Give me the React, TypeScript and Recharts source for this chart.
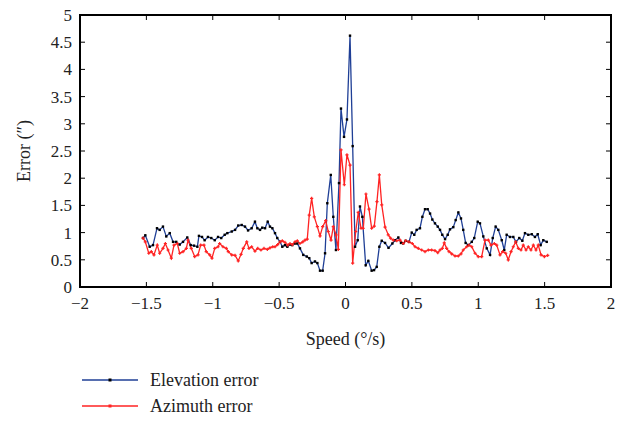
import { LineChart, Line, XAxis, YAxis, CartesianGrid, ReferenceArea, ReferenceLine } from 'recharts'

const speedTicks = [-2, -1.5, -1, -0.5, 0, 0.5, 1, 1.5, 2]
const errorTicks = [0, 0.5, 1, 1.5, 2, 2.5, 3, 3.5, 4, 4.5, 5]

const elevationSpeed = [
  -1.525, -1.508, -1.475, -1.45, -1.42, -1.4, -1.375, -1.35, -1.324, -1.299, -1.275, -1.249, -1.224, -1.192,
  -1.166, -1.141, -1.116, -1.104, -1.081, -1.061, -1.036, -1.011, -0.985, -0.96, -0.936, -0.91, -0.89,
  -0.857, -0.832, -0.808, -0.782, -0.757, -0.734, -0.707, -0.682, -0.664, -0.644, -0.627, -0.606, -0.586,
  -0.569, -0.551, -0.531, -0.514, -0.493, -0.476, -0.456, -0.438, -0.418, -0.401, -0.38, -0.363, -0.343,
  -0.318, -0.292, -0.273, -0.255, -0.23, -0.212, -0.192, -0.172, -0.154, -0.137, -0.111, -0.092, -0.072,
  -0.049, -0.034, -0.011, 0.011, 0.034, 0.054, 0.072, 0.092, 0.109, 0.127, 0.152, 0.172, 0.197, 0.215,
  0.235, 0.255, 0.273, 0.298, 0.324, 0.353, 0.373, 0.398, 0.418, 0.435, 0.453, 0.478, 0.499, 0.518, 0.536,
  0.561, 0.579, 0.599, 0.619, 0.637, 0.654, 0.674, 0.695, 0.712, 0.729, 0.75, 0.77, 0.787, 0.812, 0.83,
  0.85, 0.87, 0.887, 0.905, 0.925, 0.951, 0.97, 0.996, 1.013, 1.038, 1.064, 1.089, 1.109, 1.131, 1.151,
  1.177, 1.196, 1.214, 1.239, 1.264, 1.284, 1.309, 1.332, 1.352, 1.377, 1.403, 1.427, 1.448, 1.47, 1.49,
  1.516
]
const elevationError = [
  0.9, 0.95, 0.74, 0.77, 1.08, 1.05, 1.11, 0.93, 0.99, 0.83, 0.83, 0.78, 0.83, 0.91,
  0.77, 0.76, 0.74, 0.94, 0.92, 0.86, 0.92, 0.9, 0.86, 0.92, 0.9, 0.96, 0.99,
  1.02, 1.05, 1.13, 1.14, 1.11, 1.04, 1.08, 1.2, 1.08, 1.05, 1.09, 1.08, 1.2,
  1.11, 1.08, 0.99, 0.9, 0.83, 0.74, 0.77, 0.74, 0.78, 0.77, 0.8, 0.8, 0.71,
  0.59, 0.56, 0.53, 0.44, 0.47, 0.44, 0.3, 0.3, 0.62, 1.54, 2.06, 1.29, 0.68,
  1.91, 3.28, 2.76, 3.08, 4.62, 2.59, 0.74, 0.86, 1.48, 1.29, 0.4, 0.48, 0.3, 0.31,
  0.37, 0.74, 0.85, 0.81, 0.72, 0.8, 0.86, 0.91, 0.81, 0.8, 0.85, 0.83, 1.0, 0.96, 1.05,
  1.08, 1.29, 1.43, 1.43, 1.35, 1.24, 1.17, 1.11, 1.05, 0.96, 0.88, 0.96, 1.06, 1.1, 1.23,
  1.37, 1.26, 1.05, 0.81, 0.77, 0.83, 0.9, 1.2, 1.17, 0.93, 0.71, 0.59, 0.9, 1.11, 1.05,
  0.86, 0.68, 0.96, 0.92, 0.92, 0.83, 0.9, 0.85, 0.99, 0.96, 0.97, 0.92, 0.97, 0.77, 0.86,
  0.83
]

const azimuthSpeed = [
  -1.525, -1.508, -1.482, -1.463, -1.443, -1.418, -1.4, -1.375, -1.357, -1.337, -1.312, -1.292, -1.267,
  -1.249, -1.224, -1.199, -1.186, -1.162, -1.136, -1.111, -1.091, -1.066, -1.049, -1.023, -1.006, -0.985,
  -0.96, -0.948, -0.923, -0.898, -0.883, -0.857, -0.832, -0.808, -0.787, -0.77, -0.744, -0.727, -0.707,
  -0.682, -0.661, -0.637, -0.614, -0.589, -0.569, -0.548, -0.531, -0.511, -0.493, -0.476, -0.456, -0.435,
  -0.418, -0.401, -0.38, -0.363, -0.343, -0.322, -0.305, -0.288, -0.273, -0.255, -0.235, -0.212, -0.192,
  -0.172, -0.149, -0.13, -0.109, -0.092, -0.072, -0.054, -0.034, -0.009, 0.011, 0.034, 0.054, 0.077, 0.096,
  0.117, 0.134, 0.154, 0.177, 0.197, 0.217, 0.237, 0.255, 0.273, 0.298, 0.322, 0.339, 0.36, 0.386, 0.411,
  0.435, 0.453, 0.478, 0.503, 0.524, 0.548, 0.574, 0.599, 0.624, 0.649, 0.674, 0.695, 0.712, 0.729, 0.744,
  0.762, 0.78, 0.8, 0.825, 0.85, 0.87, 0.887, 0.913, 0.93, 0.951, 0.976, 1.0, 1.026, 1.051, 1.076, 1.096,
  1.121, 1.139, 1.164, 1.184, 1.207, 1.226, 1.247, 1.264, 1.282, 1.302, 1.322, 1.339, 1.36, 1.377, 1.397,
  1.415, 1.435, 1.452, 1.473, 1.498, 1.523
]
const azimuthError = [
  0.9, 0.83, 0.62, 0.65, 0.59, 0.77, 0.62, 0.71, 0.8, 0.68, 0.53, 0.77, 0.8,
  0.62, 0.65, 0.71, 0.86, 0.71, 0.56, 0.59, 0.77, 0.77, 0.65, 0.59, 0.53, 0.71,
  0.74, 0.8, 0.74, 0.71, 0.65, 0.59, 0.58, 0.48, 0.6, 0.71, 0.83, 0.71, 0.74,
  0.66, 0.71, 0.68, 0.71, 0.69, 0.72, 0.74, 0.74, 0.78, 0.83, 0.85, 0.82, 0.77,
  0.8, 0.78, 0.83, 0.85, 0.8, 0.83, 0.86, 0.88, 1.32, 1.63, 1.29, 1.11, 0.94,
  1.11, 1.22, 1.02, 0.86, 1.11, 0.96, 0.69, 2.52, 1.88, 2.43, 2.24, 0.44, 1.02, 1.37,
  1.08, 1.08, 1.71, 1.43, 1.08, 1.12, 1.57, 2.06, 1.51, 1.1, 0.96, 0.9, 0.86, 0.85, 0.86,
  0.8, 0.85, 0.83, 0.8, 0.74, 0.71, 0.68, 0.65, 0.68, 0.68, 0.67, 0.63, 0.68, 0.71, 0.81,
  0.71, 0.65, 0.61, 0.57, 0.57, 0.61, 0.68, 0.74, 0.77, 0.74, 0.62, 0.56, 0.56, 0.86, 0.86, 0.77,
  0.8, 0.77, 0.59, 0.65, 0.62, 0.5, 0.65, 0.74, 0.83, 0.71, 0.68, 0.77, 0.68, 0.74, 0.68,
  0.77, 0.68, 0.77, 0.59, 0.56, 0.58
]

const elevationData = elevationSpeed.map((speed, i) => ({ speed, error: elevationError[i] }))
const azimuthData = azimuthSpeed.map((speed, i) => ({ speed, error: azimuthError[i] }))

const FONT = '"Liberation Serif", "DejaVu Serif", serif'
const BLUE = '#1f3f96'
const RED = '#ff2323'

const fmt = (v: number) => (v < 0 ? '\u2212' + Math.abs(v) : String(v))

function BottomTick({ x, y, payload }: any) {
  return (
    <g>
      <line x1={x} y1={y} x2={x} y2={y - 5} stroke="#000" strokeWidth={1} />
      <text x={x} y={y + 22} textAnchor="middle" fontFamily={FONT} fontSize={17} fill="#222">
        {fmt(payload.value)}
      </text>
    </g>
  )
}

function LeftTick({ x, y, payload }: any) {
  return (
    <g>
      <line x1={x} y1={y} x2={x + 5} y2={y} stroke="#000" strokeWidth={1} />
      <text x={x - 8} y={y + 6} textAnchor="end" fontFamily={FONT} fontSize={17} fill="#222">
        {fmt(payload.value)}
      </text>
    </g>
  )
}

// short inward tick at the top end of a vertical reference line
function TopTickShape({ x1, y1, y2 }: any) {
  const top = Math.min(y1, y2)
  return <line x1={x1} y1={top} x2={x1} y2={top + 5} stroke="#000" strokeWidth={1} />
}

// short inward tick at the right end of a horizontal reference line
function RightTickShape({ x1, x2, y1 }: any) {
  const right = Math.max(x1, x2)
  return <line x1={right} y1={y1} x2={right - 5} y2={y1} stroke="#000" strokeWidth={1} />
}

function SquareDot({ cx, cy, index }: any) {
  return <rect key={'e' + index} x={cx - 1.2} y={cy - 1.2} width={2.4} height={2.4} fill="#000" />
}

function PlusDot({ cx, cy, index }: any) {
  return (
    <path
      key={'a' + index}
      d={`M${cx - 1.6},${cy}H${cx + 1.6}M${cx},${cy - 1.6}V${cy + 1.6}`}
      stroke={RED}
      strokeWidth={1.2}
    />
  )
}

export default function App() {
  return (
    <div style={{ position: 'absolute', left: 0, top: 0, width: 625, height: 423, background: '#fff' }}>
      <LineChart width={625} height={423} margin={{ top: 15, right: 14, bottom: 0, left: 0 }}>
        <CartesianGrid stroke="#555" strokeDasharray="1 7" horizontalValues={errorTicks} verticalValues={speedTicks} />
        <XAxis
          xAxisId="b"
          type="number"
          dataKey="speed"
          domain={[-2, 2]}
          ticks={speedTicks}
          height={136}
          tickSize={0}
          tickMargin={0}
          tick={<BottomTick />}
          axisLine={{ stroke: '#000', strokeWidth: 2 }}
          allowDataOverflow
          label={({ viewBox }: any) => (
            <text
              x={viewBox.x + viewBox.width / 2}
              y={viewBox.y + 58}
              textAnchor="middle"
              fontFamily={FONT}
              fontSize={18}
              fill="#222"
            >
              Speed (°/s)
            </text>
          )}
        />
        <YAxis
          yAxisId="l"
          type="number"
          domain={[0, 5]}
          ticks={errorTicks}
          width={80}
          tickSize={0}
          tickMargin={0}
          tick={<LeftTick />}
          axisLine={{ stroke: '#000', strokeWidth: 2 }}
          allowDataOverflow
          label={({ viewBox }: any) => (
            <text
              x={30}
              y={viewBox.y + viewBox.height / 2}
              transform={`rotate(-90 30 ${viewBox.y + viewBox.height / 2})`}
              textAnchor="middle"
              fontFamily={FONT}
              fontSize={18}
              fill="#222"
            >
              Error (″)
            </text>
          )}
        />
        {speedTicks.map((t) => (
          <ReferenceLine key={'tx' + t} xAxisId="b" yAxisId="l" x={t} stroke="none" shape={<TopTickShape />} />
        ))}
        {errorTicks.map((t) => (
          <ReferenceLine key={'ty' + t} xAxisId="b" yAxisId="l" y={t} stroke="none" shape={<RightTickShape />} />
        ))}
        <ReferenceArea
          xAxisId="b"
          yAxisId="l"
          x1={-2}
          x2={2}
          y1={0}
          y2={5}
          fill="none"
          fillOpacity={0}
          stroke="#000"
          strokeWidth={2}
          ifOverflow="visible"
        />
        <Line
          xAxisId="b"
          yAxisId="l"
          data={elevationData}
          dataKey="error"
          type="linear"
          stroke={BLUE}
          strokeWidth={1.3}
          dot={<SquareDot />}
          isAnimationActive={false}
        />
        <Line
          xAxisId="b"
          yAxisId="l"
          data={azimuthData}
          dataKey="error"
          type="linear"
          stroke={RED}
          strokeWidth={1.3}
          dot={<PlusDot />}
          isAnimationActive={false}
        />
      </LineChart>
      <div style={{ position: 'absolute', left: 82, top: 367, fontFamily: FONT, fontSize: 18, color: '#222' }}>
        {[
          { name: 'Elevation error', color: BLUE, dot: '#000' },
          { name: 'Azimuth error', color: RED, dot: RED },
        ].map((item) => (
          <div key={item.name} style={{ display: 'flex', alignItems: 'center', height: 26 }}>
            <svg width={56} height={10} style={{ marginRight: 12 }}>
              <line x1={0} y1={5} x2={56} y2={5} stroke={item.color} strokeWidth={1.5} />
              <rect x={26.5} y={3.5} width={3} height={3} fill={item.dot} />
            </svg>
            <span>{item.name}</span>
          </div>
        ))}
      </div>
    </div>
  )
}
